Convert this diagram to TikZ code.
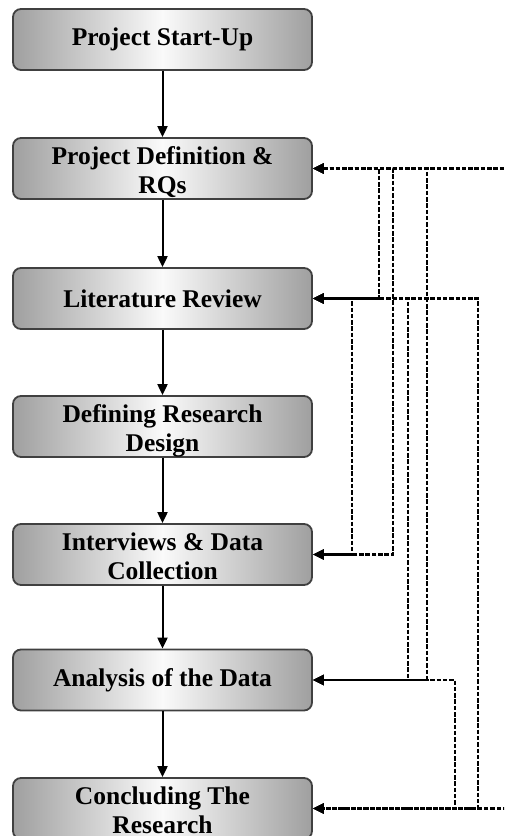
\documentclass[tikz,border=0pt]{standalone}
\usepackage{fontspec}
\setmainfont{Liberation Serif}
\usepackage[usenames]{xcolor}
\usepackage{tikz}
\usetikzlibrary{arrows.meta}

\tikzset{
  stage/.style={draw=black!75,line width=1.8pt,rounded corners=8pt,
    minimum width=299pt,minimum height=61pt,inner sep=0pt,align=center,
    left color=gray!75,right color=gray!75,middle color=white!96!gray,
    font=\fontsize{25.5}{29.5}\selectfont\bfseries},
  twoline/.style={text height=50pt,text depth=0pt},
  flow/.style={->,line width=2pt},
  fb/.style={<->,line width=2.7pt,dash pattern=on 4.5pt off 1.8pt}
}

\begin{document}
\begin{tikzpicture}[line cap=butt,line join=miter,>={Triangle[length=11pt,width=10pt]},x=1pt,y=-1pt]
\useasboundingbox (0,0) rectangle (504,836);
\clip (0,0) rectangle (504,836);
\node[stage] (start) at (162.5,39.5) {Project Start-Up};
\node[stage,twoline] (def) at (162.5,168.5) {Project Definition \&\\RQs};
\node[stage] (lit) at (162.5,298.5) {Literature Review};
\node[stage,twoline] (design) at (162.5,426.5) {Defining Research\\Design};
\node[stage,twoline] (inter) at (162.5,554.5) {Interviews \& Data\\Collection};
\node[stage] (anal) at (162.5,680) {Analysis of the Data};
\node[stage,twoline] (concl) at (162.5,808.5) {Concluding The\\Research};
\draw[flow] (start) -- (def);
\draw[flow] (def) -- (lit);
\draw[flow] (lit) -- (design);
\draw[flow] (design) -- (inter);
\draw[flow] (inter) -- (anal);
\draw[flow] (anal) -- (concl);
\coordinate (ka) at (352,0);
\coordinate (kb) at (379,0);
\coordinate (kc) at (393,0);
\coordinate (kd) at (408,0);
\coordinate (ke) at (427,0);
\coordinate (kf) at (455,0);
\coordinate (kg) at (478,0);
\coordinate (kh) at (530,0);
\draw[fb] (def.east) -| (kb |- lit.east) -- (lit.east);
\draw[fb] (def.east) -| (kc |- inter.east) -- (inter.east);
\draw[fb] (def.east) -| (ke |- anal.east) -- (anal.east);
\draw[fb] (def.east) -| (kh |- concl.east) -- (concl.east);
\draw[fb] (lit.east) -| (ka |- inter.east) -- (inter.east);
\draw[fb] (lit.east) -| (kd |- anal.east) -- (anal.east);
\draw[fb] (lit.east) -| (kg |- concl.east) -- (concl.east);
\draw[fb] (anal.east) -| (kf |- concl.east) -- (concl.east);
\end{tikzpicture}
\end{document}
